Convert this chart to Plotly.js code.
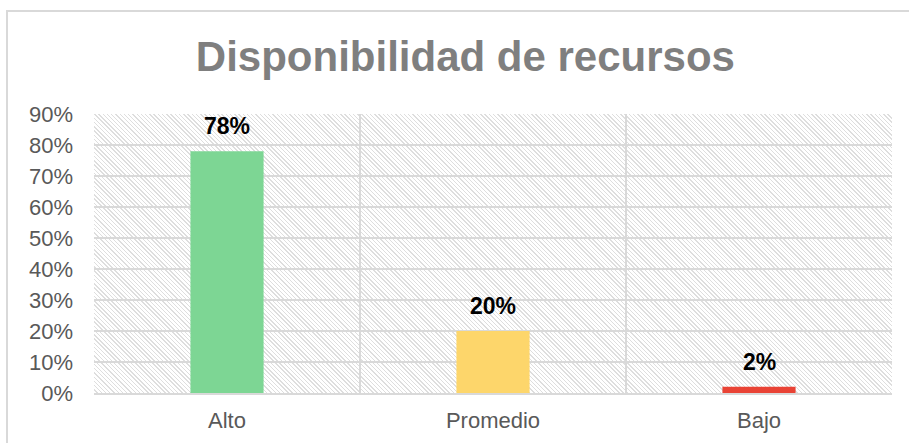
<!DOCTYPE html>
<html>
<head>
<meta charset="utf-8">
<script src="https://cdn.plot.ly/plotly-3.0.1.min.js"></script>
<style>
  html, body { margin: 0; padding: 0; background: #ffffff; }
  #wrap { position: relative; width: 909px; height: 443px; overflow: hidden; background: #fff; }
  #frame { position: absolute; left: 6px; top: 10px; width: 920px; height: 460px; border: 2px solid #d9d9d9; box-sizing: border-box; }
  #hatch { position: absolute; left: 94px; top: 114px; width: 798px; height: 279px;
    background: repeating-linear-gradient(45deg, #ffffff 0px, #ffffff 2.0px, #dedede 2.0px, #dedede 3.0px); }
  #chart { position: absolute; left: 0; top: 0; width: 909px; height: 443px; }
</style>
</head>
<body>
<div id="wrap">
  <div id="frame"></div>
  <div id="hatch"></div>
  <div id="chart"></div>
</div>
<script>
const categories = ["Alto", "Promedio", "Bajo"];
const values = [0.78, 0.20, 0.02];
const labels = ["78%", "20%", "2%"];
const barColors = ["#7dd694", "#fdd66b", "#e94335"];
const yTickValues = [0, 0.1, 0.2, 0.3, 0.4, 0.5, 0.6, 0.7, 0.8, 0.9];
const yTickLabels = ["0%", "10%", "20%", "30%", "40%", "50%", "60%", "70%", "80%", "90%"];

const trace = {
  type: "bar",
  x: categories,
  y: values,
  width: 0.275,
  marker: { color: barColors, line: { width: 0 } },
  hoverinfo: "skip"
};

const annotations = categories.map((c, i) => ({
  x: c, y: values[i], xref: "x", yref: "y",
  text: "<b>" + labels[i] + "</b>",
  showarrow: false, yanchor: "middle", yshift: 25,
  font: { family: "Liberation Sans, Arial, sans-serif", size: 23, color: "#000000" }
}));

const layout = {
  width: 909, height: 443,
  margin: { l: 94, r: 17, t: 114, b: 50, pad: 0 },
  paper_bgcolor: "rgba(0,0,0,0)",
  plot_bgcolor: "rgba(0,0,0,0)",
  showlegend: false,
  title: {
    text: "<b>Disponibilidad de recursos</b>",
    font: { family: "Liberation Sans, Arial, sans-serif", size: 42, color: "#7f7f7f" },
    x: 0.512, xanchor: "center", xref: "container",
    y: 0.874, yanchor: "middle", yref: "container"
  },
  xaxis: {
    type: "category",
    tickson: "boundaries",
    showgrid: true, gridcolor: "#d9d9d9", gridwidth: 2,
    showline: true, linecolor: "#d9d9d9", linewidth: 2,
    ticks: "", ticklen: 0,
    tickfont: { family: "Liberation Sans, Arial, sans-serif", size: 22, color: "#595959" },
    ticklabelstandoff: 7,
    fixedrange: true
  },
  yaxis: {
    range: [0, 0.9],
    tickvals: yTickValues, ticktext: yTickLabels,
    showgrid: true, gridcolor: "#d9d9d9", gridwidth: 2,
    showline: false, zeroline: false,
    ticks: "",
    tickfont: { family: "Liberation Sans, Arial, sans-serif", size: 22, color: "#595959" },
    ticklabelstandoff: 20,
    fixedrange: true
  },
  annotations: annotations
};

Plotly.newPlot("chart", [trace], layout, { displayModeBar: false, staticPlot: true });
</script>
</body>
</html>
